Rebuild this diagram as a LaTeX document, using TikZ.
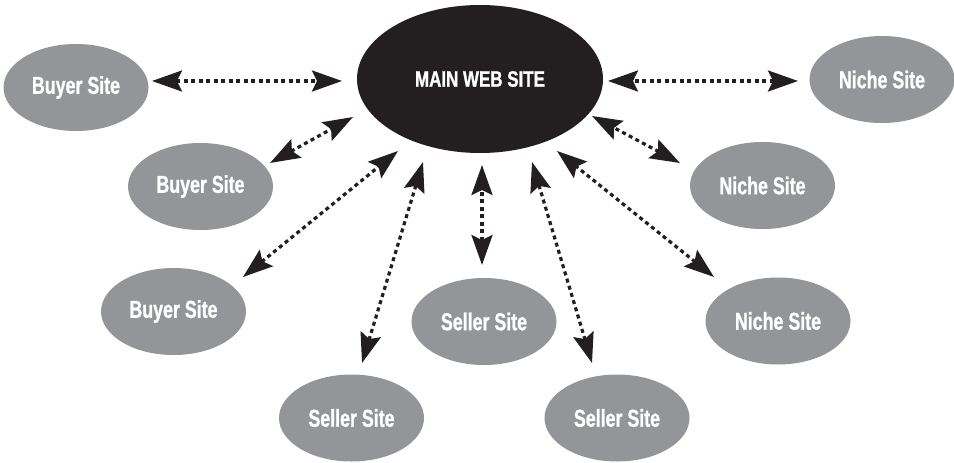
\documentclass[tikz,border=0pt]{standalone}
\usepackage{fontspec}
\usetikzlibrary{shapes.geometric,arrows.meta}
\newfontfamily\sitefont[FakeStretch=0.73,FakeBold=1]{Liberation Sans}
\newfontfamily\hubfont[FakeStretch=0.76,FakeBold=1]{Liberation Sans}
\definecolor{sitegray}{HTML}{939598}
\definecolor{hubblack}{HTML}{231F20}
\begin{document}
\begin{tikzpicture}[x=1pt,y=-1pt,
  site/.style={ellipse, fill=sitegray, minimum width=145pt, minimum height=87pt, inner sep=0pt, text=white,
    font=\sitefont\bfseries\fontsize{24.4}{26}\selectfont},
  hub/.style={ellipse, fill=hubblack, minimum width=246pt, minimum height=148pt, inner sep=0pt, text=white,
    font=\hubfont\bfseries\fontsize{22.3}{24}\selectfont},
  link/.style={draw=hubblack, line width=3.2pt, dash pattern=on 4pt off 3.5pt,
    {Stealth[length=30pt,width=21pt,inset=5pt]}-{Stealth[length=30pt,width=21pt,inset=5pt]}}]
\useasboundingbox (0,0) rectangle (954,463);

\node[hub] (main) at (480,79) {MAIN WEB SITE};

\node[site] (b1) at (76,87.5) {Buyer Site};
\node[site] (b2) at (200.5,186.5) {Buyer Site};
\node[site] (b3) at (173.5,311.5) {Buyer Site};
\node[site] (s1) at (351.5,418) {Seller Site};
\node[site] (s2) at (484,321.5) {Seller Site};
\node[site] (s3) at (617,418) {Seller Site};
\node[site] (n1) at (882,79.5) {Niche Site};
\node[site] (n2) at (762.5,185.5) {Niche Site};
\node[site] (n3) at (778,321) {Niche Site};

% arrow tip coordinates (site end / hub end)
\coordinate (b1a) at (152,81);  \coordinate (b1h) at (342,81);
\coordinate (b2a) at (270,163); \coordinate (b2h) at (353,117);
\coordinate (b3a) at (243,277); \coordinate (b3h) at (398,151);
\coordinate (s1a) at (362,363); \coordinate (s1h) at (423,162);
\coordinate (s2a) at (482,265); \coordinate (s2h) at (482,165);
\coordinate (s3a) at (592,363); \coordinate (s3h) at (532,162);
\coordinate (n3a) at (714,277); \coordinate (n3h) at (557,151);
\coordinate (n2a) at (680,163); \coordinate (n2h) at (592,116);
\coordinate (n1a) at (798,81);  \coordinate (n1h) at (608,81);

\foreach \k in {b1,b2,b3,s1,s2,s3,n1,n2,n3}{
  \draw[link] (\k a) -- (\k h);
}
\end{tikzpicture}
\end{document}
